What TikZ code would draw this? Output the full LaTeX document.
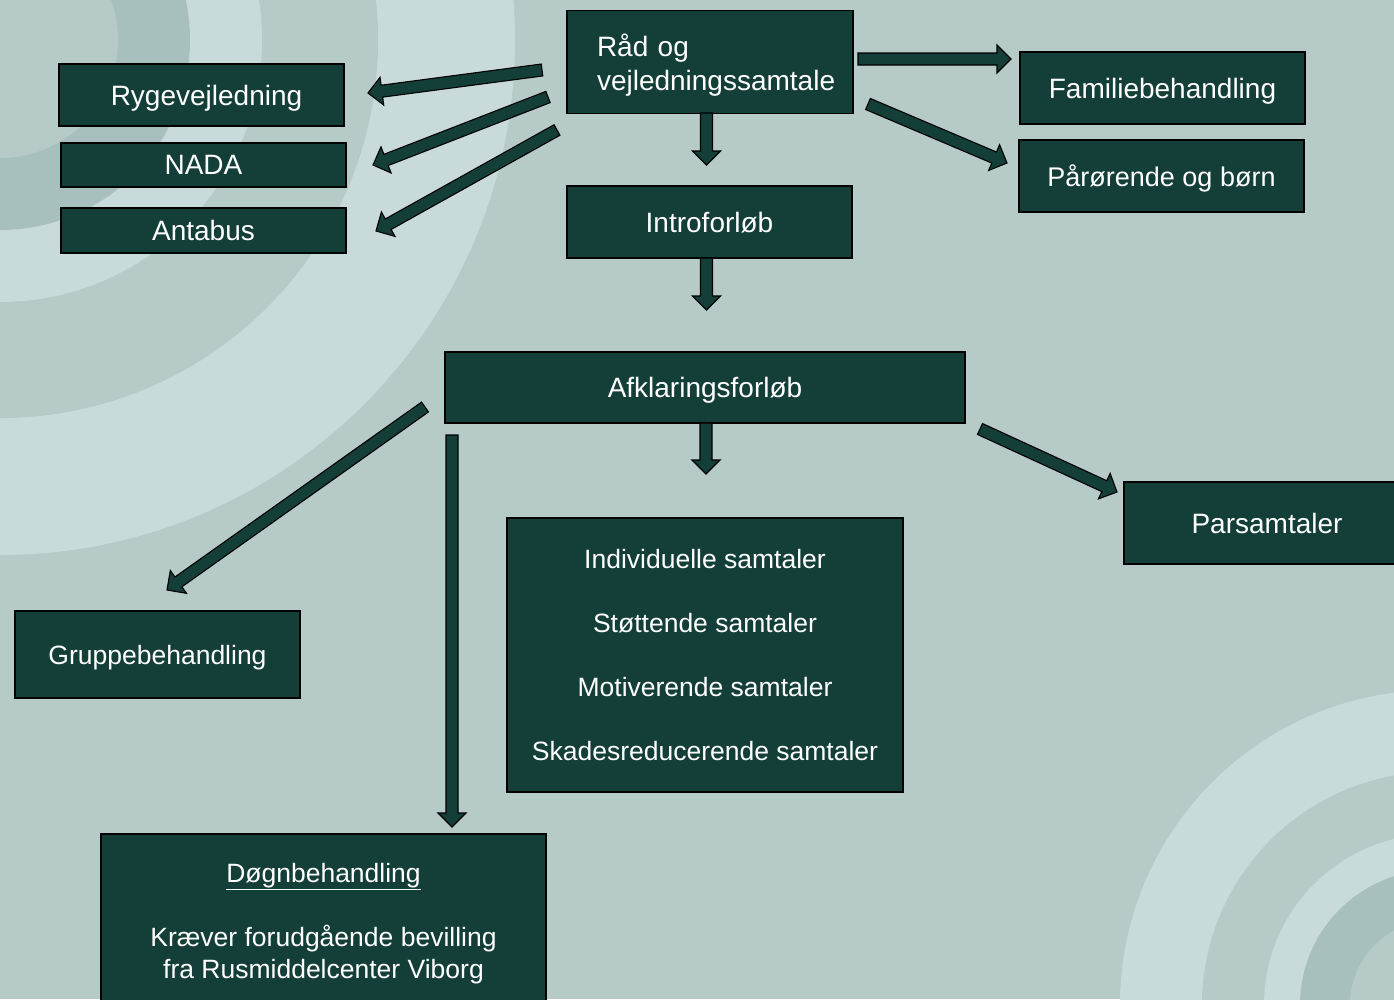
\documentclass[tikz,border=0pt]{standalone}
\usepackage{fontspec}
\setmainfont{Liberation Sans}
\usetikzlibrary{calc}
\definecolor{bgmid}{RGB}{182,202,200}
\definecolor{bglight}{RGB}{201,218,218}
\definecolor{bgdark}{RGB}{167,192,189}
\definecolor{boxgreen}{RGB}{20,63,57}
\newcommand\blockarrow[2]{%
  \coordinate (bah) at ($(#2)!14pt!(#1)$);
  \draw[blockarr] ($(#1)!6pt!90:(#2)$) -- ($(bah)!6pt!90:(#2)$) -- ($(bah)!14pt!90:(#2)$) -- (#2)
    -- ($(bah)!14pt!-90:(#2)$) -- ($(bah)!6pt!-90:(#2)$) -- ($(#1)!6pt!-90:(#2)$) -- cycle;}
\begin{document}
\begin{tikzpicture}[x=1pt,y=-1pt,
  box/.style={draw=black, line width=1.2pt, fill=boxgreen, text=white,
    font=\fontsize{28}{33}\selectfont, inner sep=0pt, text depth=0pt},
  smallbox/.style={box, font=\fontsize{26.5}{32}\selectfont},
  blockarr/.style={draw=black, line width=1.1pt, fill=boxgreen, line join=miter}]
\useasboundingbox (0,0) rectangle (1394,999);
\fill[bgmid] (0,0) rectangle (1394,999);
\begin{scope}
  \clip (0,0) rectangle (1394,999);
  \fill[bglight] (0,40) circle[radius=515pt];
  \fill[bgmid]   (0,40) circle[radius=378pt];
  \fill[bglight] (0,40) circle[radius=262pt];
  \fill[bgdark]  (0,40) circle[radius=190pt];
  \fill[bgmid]   (0,40) circle[radius=118pt];
  \fill[bglight] (1435,1005) circle[radius=315pt];
  \fill[bgmid]   (1435,1005) circle[radius=233pt];
  \fill[bglight] (1435,1005) circle[radius=171pt];
  \fill[bgdark]  (1435,1005) circle[radius=135pt];
  \fill[bgmid]   (1435,1005) circle[radius=85pt];
\end{scope}
\begin{scope}
  \clip (0,0) rectangle (1394,999);
  \node[box, text depth=, minimum width=286pt, minimum height=103pt, text width=226pt, inner xsep=30pt, align=left,
        font=\fontsize{28}{34}\selectfont] (rad) at (710,62) {\rule{0pt}{28.5pt}Råd og\\vejledningssamtale};
  \node[box, minimum width=285pt, minimum height=62pt, text width=285pt, align=center] (ryge) at (201.5,95) {\hspace*{10pt}Rygevejledning};
  \node[box, minimum width=285pt, minimum height=44pt] (nada) at (203.5,165) {NADA};
  \node[box, minimum width=285pt, minimum height=45pt] (antabus) at (203.5,230.5) {Antabus};
  \node[box, minimum width=285pt, minimum height=72pt] (famil) at (1162.5,88) {Familiebehandling};
  \node[box, minimum width=285pt, minimum height=72pt, font=\fontsize{27}{32}\selectfont] (paar) at (1161.5,176) {Pårørende og børn};
  \node[box, minimum width=285pt, minimum height=72pt] (intro) at (709.5,222) {Introforløb};
  \node[box, minimum width=520pt, minimum height=71pt] (afkl) at (705,387.5) {Afklaringsforløb};
  \node[box, minimum width=286pt, minimum height=82pt] (pars) at (1267,523) {Parsamtaler};
  \node[smallbox, minimum width=285pt, minimum height=87pt] (grup) at (157.5,654.5) {Gruppebehandling};
  \node[smallbox, minimum width=396pt, minimum height=274pt, align=center] (samt) at (705,655)
    {Individuelle samtaler\\[32pt]Støttende samtaler\\[32pt]Motiverende samtaler\\[32pt]Skadesreducerende samtaler};
  \node[smallbox, minimum width=445pt, minimum height=174pt, align=center] (doegn) at (323.5,921)
    {\underline{Døgnbehandling}\\[32pt]Kræver forudgående bevilling\\fra Rusmiddelcenter Viborg};
\end{scope}
% arrow end points
\coordinate (rygeS) at (542,70);   \coordinate (rygeE) at (368,93);
\coordinate (nadaS) at (548,97);   \coordinate (nadaE) at (373,165);
\coordinate (antS) at (557,130);   \coordinate (antE) at (376,231);
\coordinate (famS) at (858,59);    \coordinate (famE) at (1011,59);
\coordinate (paarS) at (868,104);  \coordinate (paarE) at (1007,163);
\coordinate (introS) at (706.5,113); \coordinate (introE) at (706.5,165);
\coordinate (afklS) at (706.5,258);  \coordinate (afklE) at (706.5,310);
\coordinate (samtS) at (706,423);  \coordinate (samtE) at (706,474);
\coordinate (grupS) at (425,407);  \coordinate (grupE) at (167,590);
\coordinate (doegnS) at (452,435); \coordinate (doegnE) at (452,827);
\coordinate (parsS) at (980,429);  \coordinate (parsE) at (1117,492);
\blockarrow{rygeS}{rygeE}
\blockarrow{nadaS}{nadaE}
\blockarrow{antS}{antE}
\blockarrow{famS}{famE}
\blockarrow{paarS}{paarE}
\blockarrow{introS}{introE}
\blockarrow{afklS}{afklE}
\blockarrow{samtS}{samtE}
\blockarrow{grupS}{grupE}
\blockarrow{doegnS}{doegnE}
\blockarrow{parsS}{parsE}
\end{tikzpicture}
\end{document}
